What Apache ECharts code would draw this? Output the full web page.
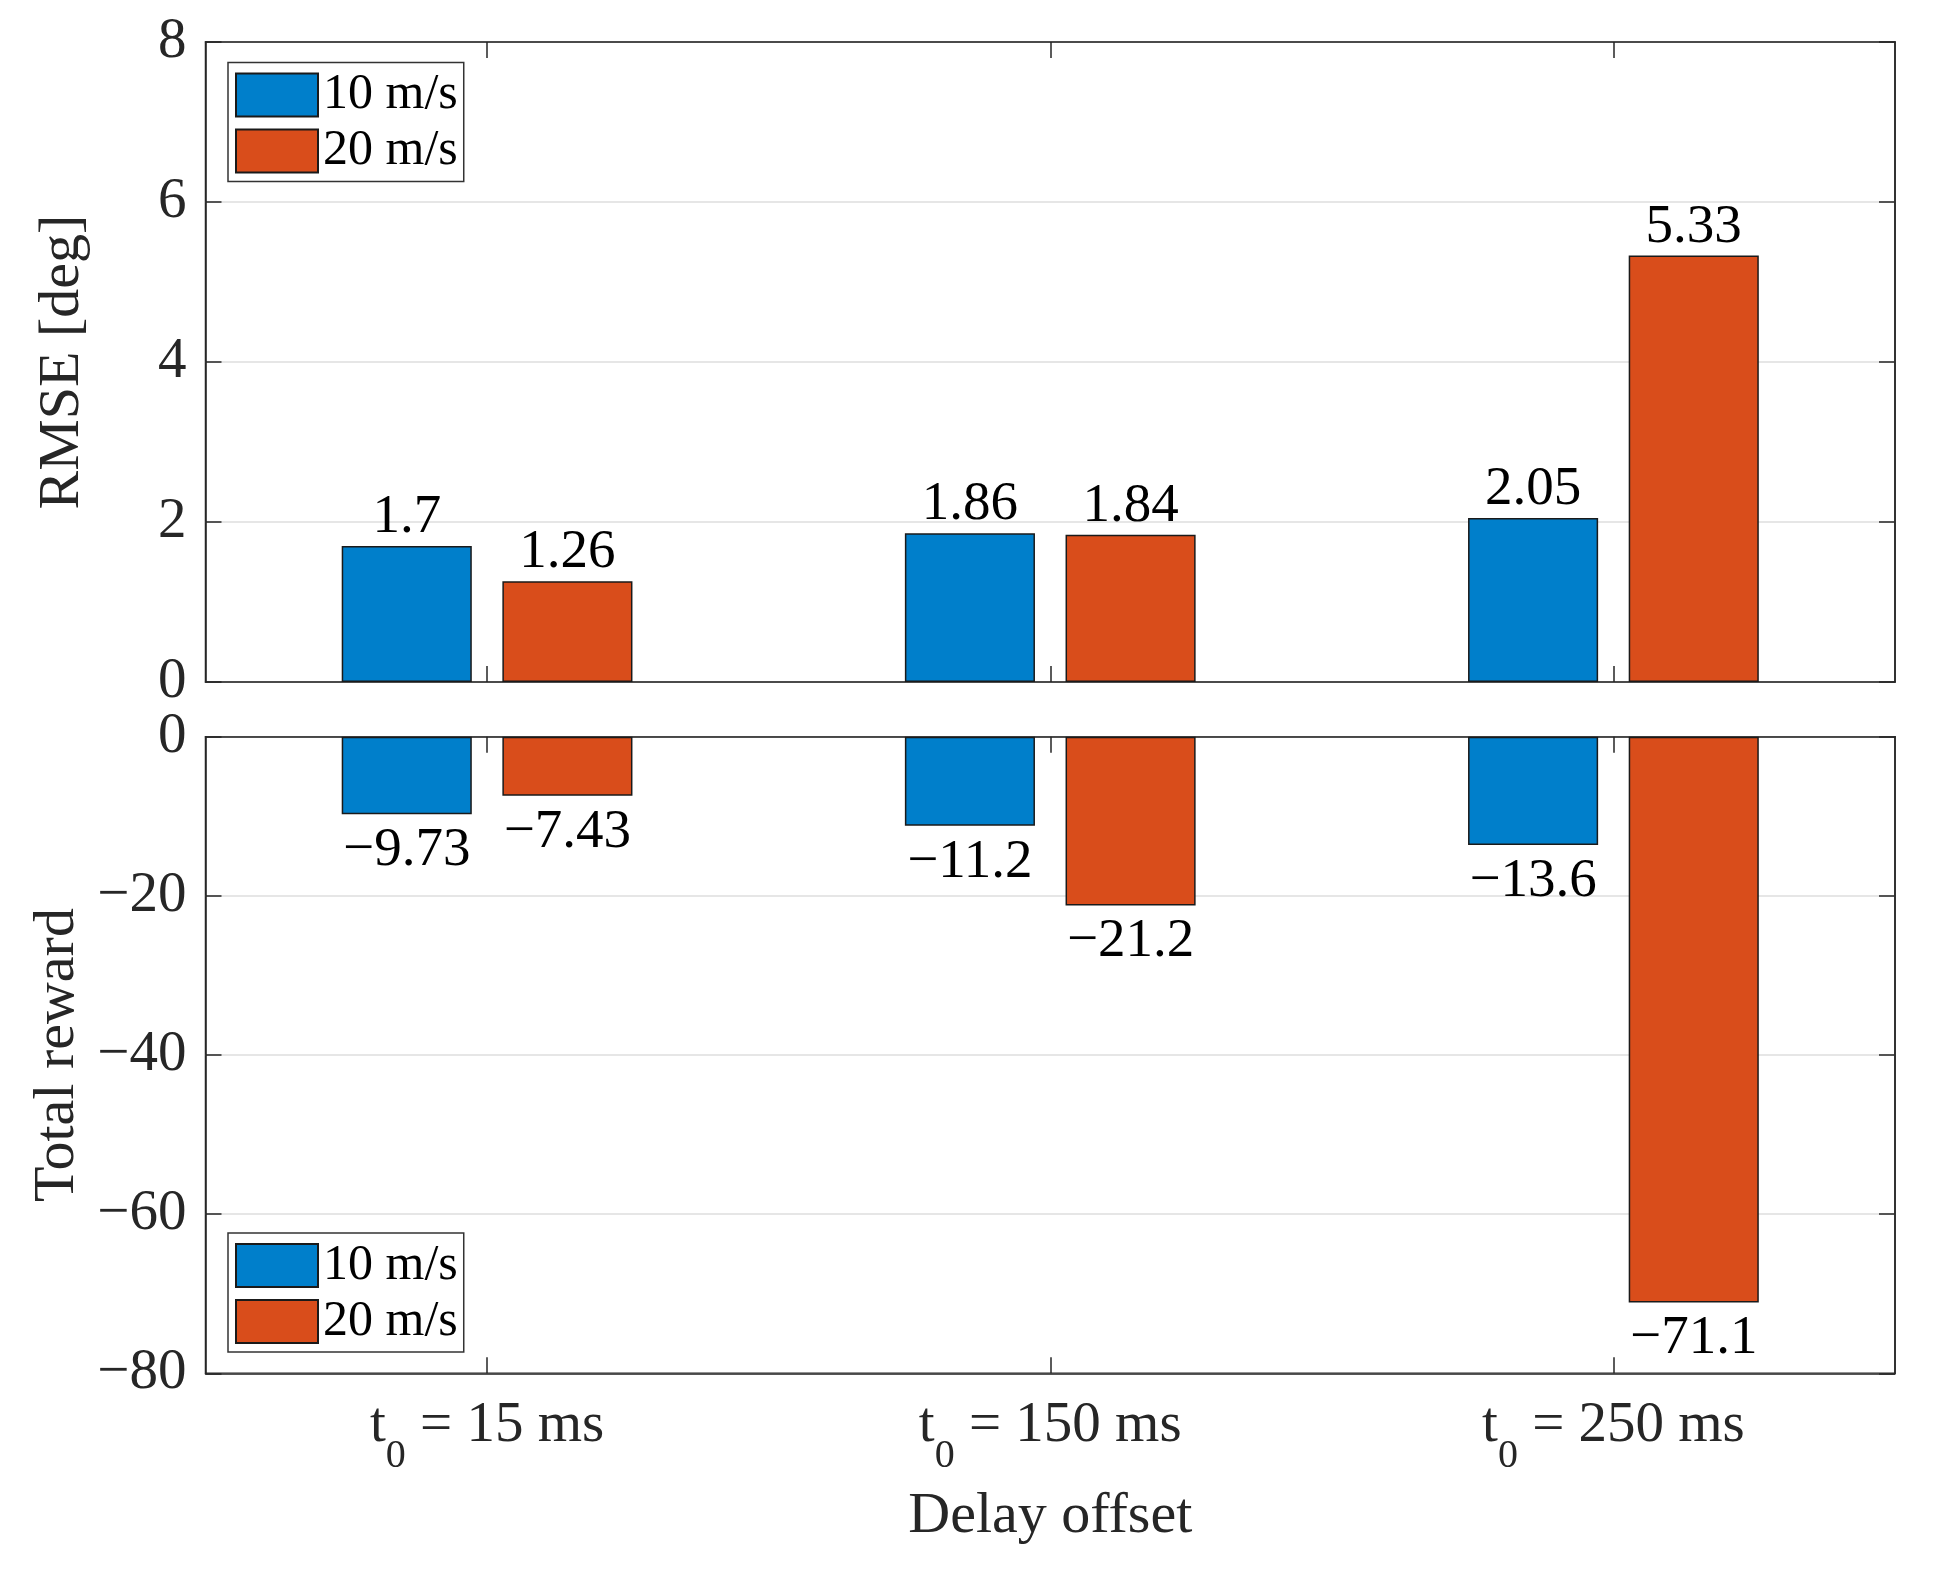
<!DOCTYPE html>
<html>
<head>
<meta charset="utf-8">
<script src="https://cdn.jsdelivr.net/npm/echarts@6/dist/echarts.min.js"></script>
<style>
html,body{margin:0;padding:0;background:#fff;}
#chart{width:1939px;height:1575px;}
</style>
</head>
<body>
<div id="chart"></div>
<script>
// ---- data ----
const delayOffsets = ['15 ms', '150 ms', '250 ms'];
const seriesNames = ['10 m/s', '20 m/s'];
const rmse10 = [1.7, 1.86, 2.05];
const rmse20 = [1.26, 1.84, 5.33];
const reward10 = [-9.73, -11.2, -13.6];
const reward20 = [-7.43, -21.2, -71.1];
const rmseAxis = { min: 0, max: 8, interval: 2 };
const rewardAxis = { min: -80, max: 0, interval: 20 };
const xTitle = 'Delay offset';
const yTitleTop = 'RMSE [deg]';
const yTitleBottom = 'Total reward';

// ---- style ----
const FONT = '"Liberation Serif", "Times New Roman", serif';
const BLUE = '#007FCB';
const RED = '#D94D1B';
const AX = '#262626';
const GRIDC = '#dedede';

const minusFmt = v => String(v).replace('-', '\u2212');

const tickStyle = { show: true, inside: true, length: 16, alignWithLabel: true, interval: 0, lineStyle: { color: AX, width: 1.5 } };
const yTickStyle = { show: true, inside: true, length: 16, lineStyle: { color: AX, width: 1.5 } };
const lineStyle = { show: true, onZero: false, lineStyle: { color: AX, width: 1.5 } };

function xAxisDef(gridIndex, position, showLabel) {
  const a = {
    type: 'category', gridIndex, position, data: delayOffsets,
    axisLine: lineStyle, axisTick: tickStyle, splitLine: { show: false },
    axisLabel: { show: false }
  };
  if (showLabel) {
    a.axisLabel = {
      show: true, interval: 0, margin: 24,
      formatter: v => '{m|t}{s|0}{m| = ' + v + '}',
      rich: {
        m: { fontSize: 57, fontFamily: FONT, color: AX, verticalAlign: 'top' },
        s: { fontSize: 40, fontFamily: FONT, color: AX, verticalAlign: 'top', padding: [39, 0, 0, 0] }
      }
    };
    a.name = xTitle;
    a.nameLocation = 'middle';
    a.nameGap = 114;
    a.nameTextStyle = { fontSize: 58, fontFamily: FONT, color: AX };
  }
  return a;
}

function yAxisDef(gridIndex, position, rng, title) {
  const a = {
    type: 'value', gridIndex, position, min: rng.min, max: rng.max, interval: rng.interval,
    axisLine: lineStyle, axisTick: yTickStyle,
    splitLine: { show: false }, axisLabel: { show: false }
  };
  if (title) {
    a.name = title;
    a.nameLocation = 'middle';
    a.nameGap = 114;
    a.nameTextStyle = { fontSize: 58, fontFamily: FONT, color: AX };
    a.axisLabel = { show: true, margin: 19, fontSize: 57, fontFamily: FONT, color: AX, formatter: minusFmt };
    a.splitLine = { show: true, lineStyle: { color: GRIDC, width: 1.5 } };
  }
  return a;
}

function barSeries(name, color, data, xi, yi, pos, dist) {
  return {
    type: 'bar', name, data, xAxisIndex: xi, yAxisIndex: yi,
    barWidth: '23.1%', barGap: '23.5%',
    itemStyle: { color, borderColor: '#1a1a1a', borderWidth: 1.5 },
    label: {
      show: true, position: pos, distance: dist, fontSize: 55, fontFamily: FONT, color: '#000',
      formatter: p => minusFmt(p.value)
    },
    emphasis: { disabled: true }
  };
}

function legendDef(top) {
  return {
    data: seriesNames, orient: 'vertical', left: 228, top,
    itemWidth: 82, itemHeight: 43, itemGap: 6,
    padding: [7.5, 6, 5.5, 7],
    borderColor: '#333', borderWidth: 1.5, backgroundColor: '#fff',
    icon: 'rect', selectedMode: false,
    textStyle: { fontSize: 50, fontFamily: FONT, color: '#000' }
  };
}

const chart = echarts.init(document.getElementById('chart'));
chart.setOption({
  animation: false,
  backgroundColor: '#fff',
  grid: [
    { left: 205.5, right: 44, top: 42, height: 640, show: true, borderColor: AX, borderWidth: 1.5, outerBoundsMode: 'none' },
    { left: 205.5, right: 44, top: 736.7, height: 636.6, show: true, borderColor: AX, borderWidth: 1.5, outerBoundsMode: 'none' }
  ],
  legend: [legendDef(62.5), legendDef(1233)],
  xAxis: [
    xAxisDef(0, 'bottom', false),
    xAxisDef(0, 'top', false),
    xAxisDef(1, 'bottom', true),
    xAxisDef(1, 'top', false)
  ],
  yAxis: [
    yAxisDef(0, 'left', rmseAxis, yTitleTop),
    yAxisDef(0, 'right', rmseAxis, null),
    yAxisDef(1, 'left', rewardAxis, yTitleBottom),
    yAxisDef(1, 'right', rewardAxis, null)
  ],
  series: [
    barSeries(seriesNames[0], BLUE, rmse10, 0, 0, 'top', 1),
    barSeries(seriesNames[1], RED, rmse20, 0, 0, 'top', 1),
    barSeries(seriesNames[0], BLUE, reward10, 2, 2, 'bottom', 9),
    barSeries(seriesNames[1], RED, reward20, 2, 2, 'bottom', 9)
  ]
});
</script>
</body>
</html>
